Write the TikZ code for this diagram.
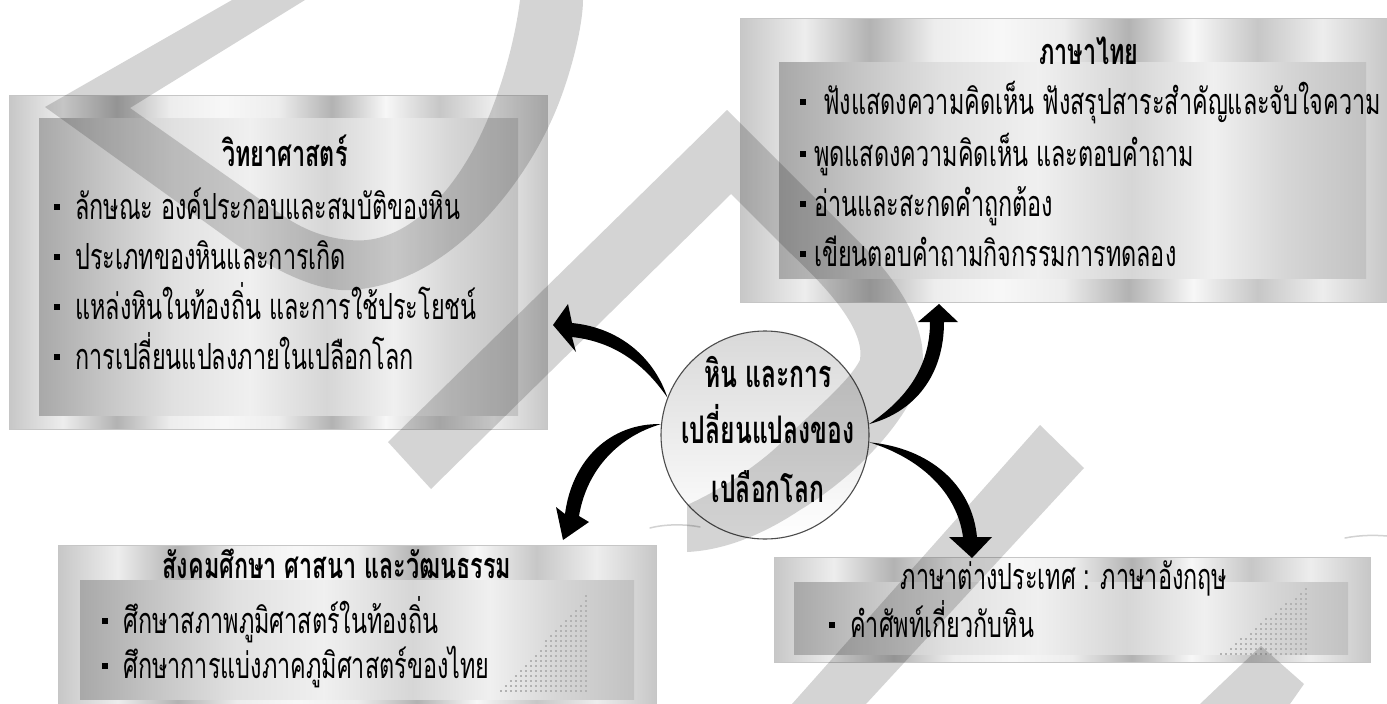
\documentclass[tikz,border=0pt]{standalone}
\usepackage{fontspec}
\newfontfamily\thai[Script=Thai,FakeStretch=0.65]{Loma}
\definecolor{fA}{gray}{0.78}
\definecolor{fB}{gray}{0.93}
\definecolor{fC}{gray}{0.70}
\definecolor{fD}{gray}{0.97}
\definecolor{pA}{gray}{0.66}
\definecolor{pB}{gray}{0.76}
\definecolor{pC}{gray}{0.88}
\definecolor{pD}{gray}{0.94}
\definecolor{pE}{gray}{0.84}
\pgfdeclarehorizontalshading{frameshade}{100bp}{color(0bp)=(fA); color(25bp)=(fA); color(30bp)=(fB); color(35bp)=(fC); color(40bp)=(fB); color(45bp)=(fD); color(50bp)=(fB); color(55bp)=(fC); color(60bp)=(fD); color(65bp)=(fA); color(70bp)=(fB); color(75bp)=(fA); color(100bp)=(fA)}
\pgfdeclarehorizontalshading{panelshade}{100bp}{color(0bp)=(pA); color(25bp)=(pA); color(31bp)=(pB); color(39bp)=(pC); color(47bp)=(pD); color(55bp)=(pE); color(62bp)=(pD); color(68bp)=(pE); color(75bp)=(pB); color(100bp)=(pB)}
\newcommand{\bul}{\rule[9pt]{6pt}{6pt}\hspace{15pt}}
\begin{document}
\begin{tikzpicture}[x=1pt,y=-1pt,
  frame/.style={shading=frameshade, draw=gray!45, line width=0.5pt, inner sep=0pt, outer sep=0pt, anchor=north west},
  panel/.style={shading=panelshade, inner sep=0pt, outer sep=0pt, anchor=north west},
  txt/.style={anchor=base west, inner sep=0pt, font=\thai\fontsize{36}{44}\selectfont},
  ttl/.style={anchor=base, inner sep=0pt, font=\thai\bfseries\fontsize{36}{44}\selectfont},
  etl/.style={anchor=base, inner sep=0pt, font=\thai\fontsize{36}{44}\selectfont},
  ctr/.style={anchor=base, inner sep=0pt, font=\thai\bfseries\fontsize{38}{46}\selectfont},
  wm/.style={fill=black, fill opacity=0.17},
  sliver/.style={draw=gray!35, line width=1.5pt, line cap=round},
  arr/.style={fill=black},
  dotc/.style={fill=gray!60}]
\path[use as bounding box] (0,0) rectangle (1387,704);
\fill[white] (0,0) rectangle (1387,704);
% boxes
\node[frame, minimum width=538pt, minimum height=334pt] (sci) at (9,95) {};
\node[panel, minimum width=479pt, minimum height=297pt] (scip) at (39,118) {};
\node[frame, minimum width=647pt, minimum height=284pt] (thai) at (740,18) {};
\node[panel, minimum width=587pt, minimum height=216pt] (thaip) at (779,62) {};
\node[frame, minimum width=598pt, minimum height=170pt] (soc) at (58,545) {};
\node[panel, minimum width=554pt, minimum height=119pt] (socp) at (80,580) {};
\node[frame, minimum width=596pt, minimum height=105pt] (eng) at (774,557) {};
\node[panel, minimum width=554pt, minimum height=72pt] (engp) at (794,582) {};
% dot patterns
\foreach \i in {0,...,17}{\foreach \j in {0,...,19}{
  \pgfmathsetmacro{\xx}{500+5*\i}\pgfmathsetmacro{\yy}{595+5*\j}
  \pgfmathparse{(\yy >= 690-(\xx-500)*1.118) ? 1 : 0}
  \ifnum\pgfmathresult=1 \fill[dotc] (\xx,\yy) rectangle ++(1.8,1.8);\fi}}
\foreach \i in {0,...,17}{\foreach \j in {0,...,13}{
  \pgfmathsetmacro{\xx}{1220+5*\i}\pgfmathsetmacro{\yy}{588+5*\j}
  \pgfmathparse{(\yy >= 652-(\xx-1220)*0.76) ? 1 : 0}
  \ifnum\pgfmathresult=1 \fill[dotc] (\xx,\yy) rectangle ++(1.8,1.8);\fi}}
% faint slivers
\draw[sliver] (650,528) .. controls (665,524) and (685,524) .. (700,527);
\draw[sliver] (1345,538) .. controls (1360,535) and (1375,535) .. (1387,536);
% science text
\node[ttl] (st) at (285,166) {วิทยาศาสตร์};
\node[txt] (s1) at (54,219) {\bul ลักษณะ องค์ประกอบและสมบัติของหิน};
\node[txt] (s2) at (54,269) {\bul ประเภทของหินและการเกิด};
\node[txt] (s3) at (54,319) {\bul แหล่งหินในท้องถิ่น และการใช้ประโยชน์};
\node[txt] (s4) at (54,369) {\bul การเปลี่ยนแปลงภายในเปลือกโลก};
% thai text
\node[ttl] (tt) at (1089,64) {ภาษาไทย};
\node[txt] (t1) at (800,114) {\rule[9pt]{6pt}{6pt}\hspace{17pt}ฟังแสดงความคิดเห็น ฟังสรุปสาระสำคัญและจับใจความ};
\node[txt] (t2) at (800,166) {\rule[9pt]{6pt}{6pt}\hspace{8pt}พูดแสดงความคิดเห็น และตอบคำถาม};
\node[txt] (t3) at (800,216) {\rule[9pt]{6pt}{6pt}\hspace{8pt}อ่านและสะกดคำถูกต้อง};
\node[txt] (t4) at (800,266) {\rule[9pt]{6pt}{6pt}\hspace{8pt}เขียนตอบคำถามกิจกรรมการทดลอง};
% social text
\node[ttl] (ot) at (337,578) {สังคมศึกษา ศาสนา และวัฒนธรรม};
\node[txt] (o1) at (102,633) {\bul ศึกษาสภาพภูมิศาสตร์ในท้องถิ่น};
\node[txt] (o2) at (102,678) {\bul ศึกษาการแบ่งภาคภูมิศาสตร์ของไทย};
% english text
\node[etl] (et) at (1064,589) {ภาษาต่างประเทศ : ภาษาอังกฤษ};
\node[txt] (e1) at (829,637) {\bul คำศัพท์เกี่ยวกับหิน};
% centre
\node[circle, minimum size=208pt, inner sep=0pt, draw=gray!60!black, line width=1.1pt, shading angle=45, top color=gray!30, bottom color=white] (c) at (765,435) {};
\node[ctr] (c1) at (768,387) {หิน และการ};
\node[ctr] (c2) at (768,443) {เปลี่ยนแปลงของ};
\node[ctr] (c3) at (768,502) {เปลือกโลก};
% arrows
\coordinate (ta) at (553,325);
\coordinate (tb) at (939,304);
\coordinate (tc) at (563,540);
\coordinate (td) at (972,558);
\fill[arr] (c.159) .. controls (647,368) and (618,342) .. (572,337) -- (576,352) -- (ta) -- (568,304) -- (572,323) .. controls (622,328) and (655,360) .. (c.159) -- cycle;
\fill[arr] (c.6) .. controls (905,400) and (930,368) .. (930,322) -- (918,322) -- (tb) -- (958,322) -- (944,322) .. controls (944,375) and (915,412) .. (c.6) -- cycle;
\fill[arr] (c.174) .. controls (620,436) and (587,468) .. (579,516) -- (589,522) -- (tc) -- (556,507) -- (565,514) .. controls (572,460) and (610,423) .. (c.174) -- cycle;
\fill[arr] (c.-4) .. controls (920,458) and (957,492) .. (963,537) -- (949,537) -- (td) -- (992,537) -- (977,537) .. controls (972,485) and (930,448) .. (c.-4) -- cycle;
% watermark
\fill[wm] (232,0) -- (45,107) -- (230,240) .. controls (275,272) and (320,292) .. (350,290) .. controls (450,285) and (530,180) .. (560,100) .. controls (575,60) and (583,20) .. (583,0) -- (520,0) .. controls (515,40) and (500,100) .. (473,150) .. controls (440,210) and (395,245) .. (350,240) .. controls (325,238) and (305,230) .. (285,217) -- (130,108) -- (305,0) -- cycle;
\fill[wm] (388,442) -- (727,110) -- (867,250) .. controls (905,290) and (935,340) .. (918,385) .. controls (900,430) and (850,480) .. (800,510) .. controls (770,530) and (730,550) .. (687,552) -- (687,505) .. controls (720,490) and (760,465) .. (787,437) .. controls (820,405) and (850,380) .. (860,360) .. controls (865,330) and (830,290) .. (787,250) -- (731,194) -- (431,489) -- cycle;
\fill[wm] (1040,425) -- (1084,468) -- (866,704) -- (792,704) -- cycle;
\fill[wm] (1261,646) -- (1304,684) -- (1290,704) -- (1200,704) -- cycle;
\end{tikzpicture}
\end{document}
